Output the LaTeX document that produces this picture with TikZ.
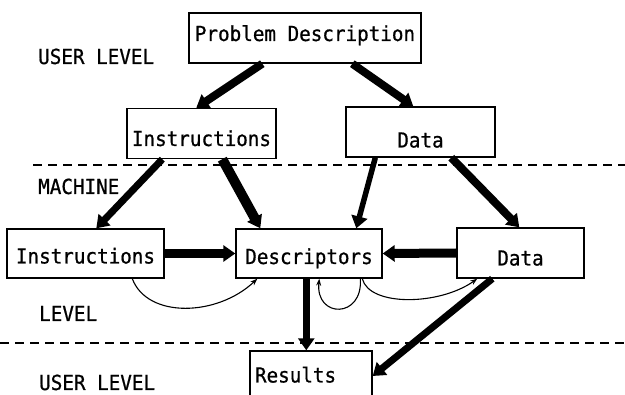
\documentclass[tikz,border=0pt]{standalone}
\usepackage{fontspec}
\setmonofont{DejaVu Sans Mono}[FakeStretch=0.93,FakeBold=0.7]
\usetikzlibrary{arrows.meta}
\begin{document}
\begin{tikzpicture}[x=1pt,y=-1pt,
  every node/.style={font=\ttfamily\fontsize{20.7}{24}\selectfont},
  box/.style={draw,line width=1.4pt,inner sep=0pt,minimum height=50pt,text depth=0pt},
  level/.style={inner sep=0pt,anchor=base west},
  heavy/.style={line width=#1,-{Triangle[length=12pt,width=16pt]}},
  heavy/.default=8pt,
  curl/.style={line width=1.1pt,-{Stealth[length=7pt,width=5pt]}},
  divider/.style={line width=1.2pt,dash pattern=on 9pt off 6pt}]
\useasboundingbox (0,0) rectangle (625,395);

% level dividers
\draw[divider] (33,165) -- (625,165);
\draw[divider] (0,343) -- (625,343);

% level captions
\node[level] (userTop) at (38,64) {USER LEVEL};
\node[level] (machine) at (38,194) {MACHINE};
\node[level] (lev) at (39,321) {LEVEL};
\node[level] (userBot) at (39,390) {USER LEVEL};

% boxes
\node[box,minimum width=232pt,text height=6pt] (prob) at (305,38) {Problem Description};
\node[box,minimum width=149pt,text height=25pt] (insU) at (201.5,133.5) {Instructions};
\node[box,minimum width=149pt,text height=31pt] (datU) at (420.5,132) {Data};
\node[box,minimum width=157pt,minimum height=49pt,text height=20pt] (insL) at (85.5,253.5) {Instructions};
\node[box,minimum width=146pt,minimum height=49pt,text height=21pt] (desc) at (309,253.5) {Descriptors};
\node[box,minimum width=127pt,text height=25pt] (datL) at (520.5,253) {Data};
\node[box,minimum width=122pt,text width=112pt,align=left,text height=13pt] (res) at (311,376) {Results};

% heavy flows
\draw[heavy] ([xshift=74pt]prob.south west) -- ([xshift=70pt]insU.north west);
\draw[heavy] ([xshift=164pt]prob.south west) -- ([xshift=68pt]datU.north west);
\draw[heavy=7pt] ([xshift=36pt]insU.south west) -- ([xshift=90pt]insL.north west);
\draw[heavy=10pt] ([xshift=96pt]insU.south west) -- ([xshift=25pt]desc.north west);
\draw[heavy=5.5pt] ([xshift=30pt]datU.south west) -- ([xshift=121pt]desc.north west);
\draw[heavy] ([xshift=106pt]datU.south west) -- ([xshift=63pt]datL.north west);
\draw[heavy=9pt] (insL.east) -- (desc.west);
\draw[heavy=9pt] (datL.west) -- (desc.east);
\draw[heavy=7pt] ([xshift=71pt]desc.south west) -- ([xshift=57pt]res.north west);
\draw[heavy=7pt] ([xshift=36pt]datL.south west) -- (res.east);

% light curved links
\draw[curl] ([xshift=126pt]insL.south west) .. controls +(15,40) and +(-40,38) .. ([xshift=22pt]desc.south west);
\draw[curl] ([xshift=125pt]desc.south west) .. controls +(3,40) and +(-4,40) .. ([xshift=84pt]desc.south west);
\draw[curl] ([xshift=127pt]desc.south west) .. controls +(7,28) and +(-38,27) .. ([xshift=21pt]datL.south west);
\end{tikzpicture}
\end{document}
